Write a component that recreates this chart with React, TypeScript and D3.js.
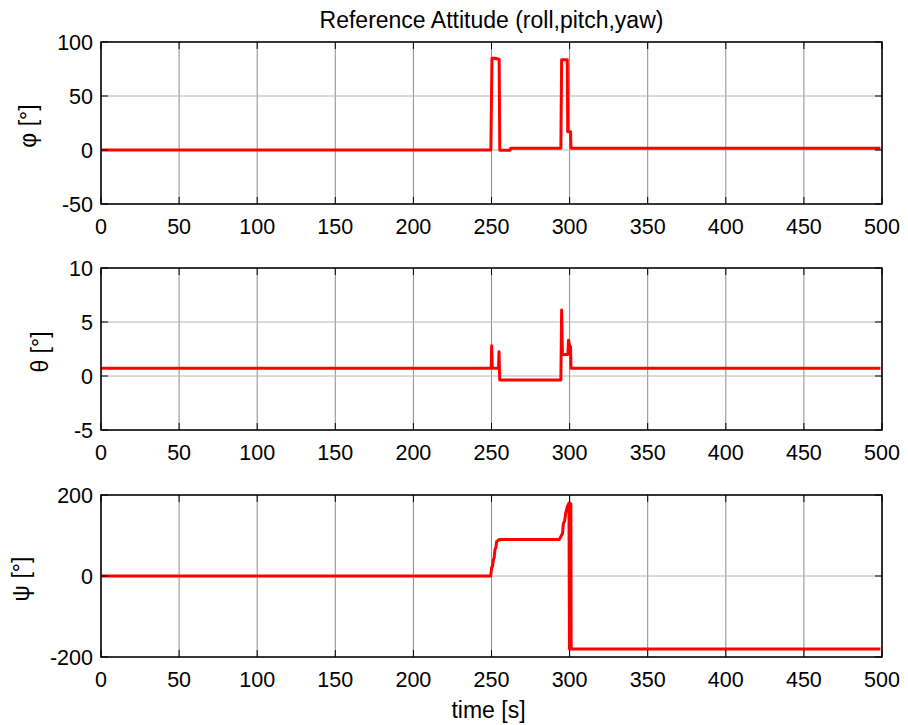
import React from "react";
import * as d3 from "d3";

const W = 908;
const H = 725;
const FONT = "'Liberation Sans', Arial, sans-serif";

const xTicks = [0, 50, 100, 150, 200, 250, 300, 350, 400, 450, 500];

// roll
const phiT = [0, 249.6, 250.3, 252, 254.9, 255.3, 261.9, 262.3, 294.4, 294.9, 298.5, 298.8, 300.6, 300.9, 499];
const phiV = [0, 0, 85, 85, 84, -0.3, -0.3, 1.6, 1.6, 83.5, 83.5, 17, 17, 1.6, 1.6];

// pitch
const thetaT = [0, 249.8, 250.1, 250.5, 254.5, 254.8, 255.3, 294.4, 294.9, 295.4, 298.9, 299.3, 300.2, 300.6, 300.9, 499];
const thetaV = [0.72, 0.72, 2.8, 0.72, 0.72, 2.25, -0.37, -0.37, 6.1, 2.0, 2.0, 3.3, 2.7, 2.7, 0.72, 0.72];

// yaw
const psiT = [0, 249.5, 250.1, 250.7, 251.2, 251.7, 252.2, 252.8, 253.3, 254, 255, 293.4, 294.9, 295.5, 296, 296.8, 297.5, 298.5, 299.6, 299.9, 300.2, 300.5, 300.8, 301, 499];
const psiV = [0, 0, 21, 24, 40, 45, 65, 70, 85, 87, 90, 90, 101, 105, 130, 135, 155, 171, 180, -180, 180, -180, 178, -180, -180];

const phiTicks = [-50, 0, 50, 100];
const thetaTicks = [-5, 0, 5, 10];
const psiTicks = [-200, 0, 200];

const left = 101;
const right = 882;
const panelH = 162;

const panels = [
  { t: phiT, v: phiV, ticks: phiTicks, domain: [-50, 100], top: 42, label: "φ [°]", labelX: 36 },
  { t: thetaT, v: thetaV, ticks: thetaTicks, domain: [-5, 10], top: 268, label: "θ [°]", labelX: 48 },
  { t: psiT, v: psiV, ticks: psiTicks, domain: [-200, 200], top: 495, label: "ψ [°]", labelX: 29 },
];

const x = d3.scaleLinear().domain([0, 500]).range([left, right]);

const Panel = ({ p }: { p: (typeof panels)[number] }) => {
  const y = d3.scaleLinear().domain(p.domain).range([p.top + panelH, p.top]);
  const pts: [number, number][] = p.t.map((t, i) => [t, p.v[i]]);
  const line = d3
    .line<[number, number]>()
    .x((d) => x(d[0]))
    .y((d) => y(d[1]));
  const bottom = p.top + panelH;
  const tick = 7;
  return (
    <g>
      {xTicks.map((t) => (
        <line key={"gx" + t} x1={x(t)} x2={x(t)} y1={p.top} y2={bottom} stroke="#8c8c8c" strokeWidth={1} />
      ))}
      {p.ticks.map((t) => (
        <line key={"gy" + t} x1={left} x2={right} y1={y(t)} y2={y(t)} stroke="#b4b4b4" strokeWidth={1} />
      ))}
      <path d={line(pts) ?? ""} fill="none" stroke="#ff0000" strokeWidth={3} strokeLinejoin="round" />
      <rect x={left} y={p.top} width={right - left} height={panelH} fill="none" stroke="#000" strokeWidth={1.5} />
      {xTicks.map((t) => (
        <g key={"tx" + t}>
          <line x1={x(t)} x2={x(t)} y1={bottom} y2={bottom - tick} stroke="#000" />
          <line x1={x(t)} x2={x(t)} y1={p.top} y2={p.top + tick} stroke="#000" />
          <text x={x(t)} y={bottom + 30} textAnchor="middle" fontSize={21.5} fontFamily={FONT}>
            {t}
          </text>
        </g>
      ))}
      {p.ticks.map((t) => (
        <g key={"ty" + t}>
          <line x1={left} x2={left + tick} y1={y(t)} y2={y(t)} stroke="#000" />
          <line x1={right} x2={right - tick} y1={y(t)} y2={y(t)} stroke="#000" />
          <text x={93} y={y(t) + 7.5} textAnchor="end" fontSize={21.5} fontFamily={FONT}>
            {t}
          </text>
        </g>
      ))}
      <text
        transform={`translate(${p.labelX},${p.top + panelH / 2 + 3}) rotate(-90)`}
        textAnchor="middle"
        fontSize={23}
        fontFamily={FONT}
      >
        {p.label}
      </text>
    </g>
  );
};

export default function App() {
  return (
    <svg
      width={W}
      height={H}
      style={{ position: "absolute", left: 0, top: 0, display: "block", background: "#fff" }}
    >
      <rect width={W} height={H} fill="#fff" />
      <text x={(left + right) / 2} y={28} textAnchor="middle" fontSize={23} fontFamily={FONT}>
        Reference Attitude (roll,pitch,yaw)
      </text>
      {panels.map((p, i) => (
        <Panel key={i} p={p} />
      ))}
      <text x={(left + right) / 2 - 3} y={718} textAnchor="middle" fontSize={23} fontFamily={FONT}>
        time [s]
      </text>
    </svg>
  );
}
